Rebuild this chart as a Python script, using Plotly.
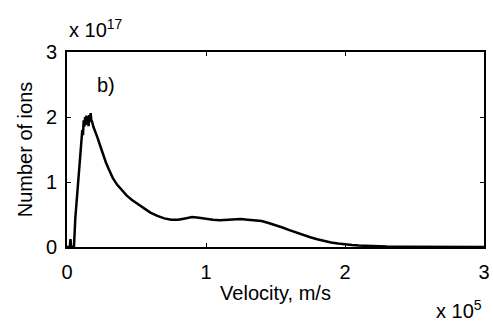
import plotly.graph_objects as go

# velocity in units of 1e5 m/s, number of ions in units of 1e17
velocity = [0.0, 0.02, 0.025, 0.03, 0.04, 0.05, 0.06, 0.08, 0.10, 0.11, 0.115, 0.12, 0.125, 0.13, 0.135,
            0.14, 0.145, 0.15, 0.155, 0.16, 0.165, 0.17, 0.175, 0.18, 0.19, 0.20, 0.22, 0.24, 0.26,
            0.28, 0.30, 0.33, 0.36, 0.40, 0.43, 0.47, 0.51, 0.55, 0.60, 0.65, 0.70, 0.75, 0.80,
            0.85, 0.90, 0.95, 1.00, 1.05, 1.10, 1.15, 1.20, 1.25, 1.30, 1.35, 1.40, 1.45, 1.50,
            1.55, 1.60, 1.65, 1.70, 1.75, 1.80, 1.85, 1.90, 1.95, 2.00, 2.05, 2.10, 2.15, 2.20,
            2.30, 2.40, 2.50, 2.60, 2.80, 3.00]
ions = [0.0, 0.0, 0.12, 0.0, 0.0, 0.0, 0.45, 1.05, 1.65, 1.80, 1.72, 1.95, 1.85, 2.00, 1.88,
        2.02, 1.90, 1.98, 1.86, 2.03, 1.92, 2.06, 1.95, 1.93, 1.85, 1.80, 1.68, 1.55, 1.42,
        1.30, 1.20, 1.06, 0.96, 0.86, 0.79, 0.72, 0.66, 0.60, 0.53, 0.48, 0.44, 0.42, 0.42,
        0.44, 0.46, 0.45, 0.43, 0.42, 0.41, 0.42, 0.42, 0.43, 0.42, 0.41, 0.40, 0.37, 0.34,
        0.30, 0.26, 0.22, 0.18, 0.15, 0.12, 0.09, 0.07, 0.055, 0.04, 0.03, 0.022, 0.016, 0.011,
        0.006, 0.003, 0.002, 0.001, 0.0, 0.0]

x_ticks = [0, 1, 2, 3]
y_ticks = [0, 1, 2, 3]

FONT = "Liberation Sans, Arial, sans-serif"
FS = 20

fig = go.Figure()
fig.add_trace(go.Scatter(x=velocity, y=ions, mode="lines",
                         line=dict(color="black", width=2.5), showlegend=False))

axis_common = dict(showline=True, linecolor="black", linewidth=2, mirror="ticks",
                   ticks="inside", ticklen=4, tickwidth=1, tickcolor="black",
                   showgrid=False, zeroline=False, automargin=False,
                   tickfont=dict(family=FONT, size=FS, color="black"))

fig.update_xaxes(range=[0, 3], tickvals=x_ticks, ticktext=[str(t) for t in x_ticks],
                 ticklabelstandoff=6,
                 title=dict(text="Velocity, m/s", font=dict(family=FONT, size=FS, color="black"),
                            standoff=4),
                 **axis_common)
fig.update_yaxes(range=[0, 3], tickvals=y_ticks, ticktext=[str(t) for t in y_ticks],
                 ticklabelstandoff=4,
                 title=dict(text="Number of ions", font=dict(family=FONT, size=FS, color="black"),
                            standoff=8),
                 **axis_common)

fig.add_annotation(x=0.28, y=2.5, xref="x", yref="y", text="b)", showarrow=False,
                   font=dict(family=FONT, size=FS, color="black"))
fig.add_annotation(x=0, y=1, xref="paper", yref="paper", xanchor="left", yanchor="bottom",
                   yshift=9, text="x 10<sup>17</sup>", showarrow=False,
                   font=dict(family=FONT, size=FS, color="black"))
fig.add_annotation(x=1, y=0, xref="paper", yref="paper", xanchor="right", yanchor="bottom",
                   yshift=-77, text="x 10<sup>5</sup>", showarrow=False,
                   font=dict(family=FONT, size=FS, color="black"))

fig.update_layout(width=493, height=324, paper_bgcolor="white", plot_bgcolor="white",
                  margin=dict(l=67, r=9, t=52, b=77),
                  font=dict(family=FONT, size=FS, color="black"))

fig.write_html("out.html", config={"displayModeBar": False},
               post_script="document.body.style.margin='0';")
